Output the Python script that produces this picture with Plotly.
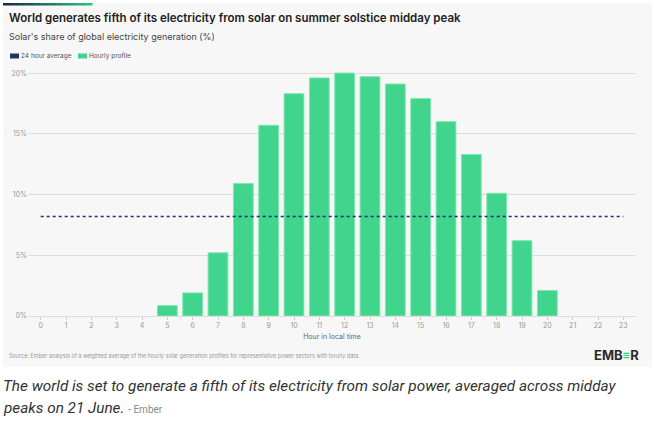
import plotly.graph_objects as go

hours = list(range(24))
hourly_profile = [0, 0, 0, 0, 0, 0.85, 1.9, 5.2, 10.9, 15.7, 18.3, 19.6, 20.0, 19.7,
                  19.1, 17.9, 16.0, 13.3, 10.1, 6.2, 2.1, 0, 0, 0]
avg_value = 8.2
y_ticks = [0, 5, 10, 15, 20]

W, H = 655, 423
L, R = 28, 636          # plot area px
T, B = 67, 316          # plot area px
YMAX = 20.5

def px(x):
    return (x - L) / (R - L)

def py(y):
    return (B - y) / (B - T)

CARD = "#f7f7f7"
fig = go.Figure()

fig.add_trace(go.Bar(
    x=hours, y=hourly_profile, name="Hourly profile",
    marker=dict(color="#40d48c",
                line=dict(color="#7fe6b3", width=[0 if v == 0 else 1 for v in hourly_profile])),
    showlegend=False, hoverinfo="x+y",
))
fig.add_trace(go.Scatter(
    x=[hours[0], hours[-1]], y=[avg_value, avg_value], mode="lines",
    name="24 hour average",
    line=dict(color="#1f3566", width=1.5, dash="dot"),
    showlegend=False,
))

shapes = []
# card background
shapes.append(dict(type="rect", xref="paper", yref="paper",
                   x0=px(3), x1=px(652), y0=py(3), y1=py(367),
                   fillcolor=CARD, line=dict(width=0), layer="below"))
# top gradient accent bar
n = 12
c0 = (27, 42, 78)
c1 = (46, 190, 120)
for i in range(n):
    t = i / (n - 1)
    c = tuple(int(c0[k] + (c1[k] - c0[k]) * t) for k in range(3))
    xa = 3 + (92 - 3) * i / n
    xb = 3 + (92 - 3) * (i + 1) / n + 0.5
    shapes.append(dict(type="rect", xref="paper", yref="paper",
                       x0=px(xa), x1=px(xb), y0=py(3), y1=py(5.5),
                       fillcolor="rgb(%d,%d,%d)" % c, line=dict(width=0), layer="below"))
# legend swatches
shapes.append(dict(type="rect", xref="paper", yref="paper",
                   x0=px(10), x1=px(19), y0=py(53.5), y1=py(58.5),
                   fillcolor="#1f3566", line=dict(width=0)))
shapes.append(dict(type="rect", xref="paper", yref="paper",
                   x0=px(78), x1=px(87), y0=py(53.5), y1=py(58.5),
                   fillcolor="#40d48c", line=dict(width=0)))

FONT = "Inter, Lato, sans-serif"

def ann(text, x, y, size, color, xanchor="left", family=FONT, weight=None):
    f = dict(size=size, color=color, family=family)
    if weight:
        f["weight"] = weight
    return dict(text=text, xref="paper", yref="paper", x=px(x), y=py(y),
                xanchor=xanchor, yanchor="middle", showarrow=False, font=f)

annotations = [
    ann("World generates fifth of its electricity from solar on summer solstice midday peak",
        7, 18, 11.5, "#222222", weight=600),
    ann("Solar's share of global electricity generation (%)", 7, 36, 9, "#444444"),
    ann("24 hour average", 19, 56, 6.5, "#555555"),
    ann("Hourly profile", 87, 56, 6.5, "#555555"),
    ann("Source: Ember analysis of a weighted average of the hourly solar generation profiles for representative power sectors with hourly data.",
        7, 356, 5.5, "#999999"),
    ann("<b>EMB<span style='color:#2fcf82'>≡</span>R</b>", 641, 355, 13, "#2a2a2a", xanchor="right"),
    ann("<i>The world is set to generate a fifth of its electricity from solar power, averaged across midday</i>",
        1, 386, 15.3, "#333333", family="Roboto, sans-serif"),
    ann("<i>peaks on 21 June.</i> <span style='font-size:10px;color:#888888'>- Ember</span>",
        1, 408, 15.3, "#333333", family="Roboto, sans-serif"),
]

fig.update_layout(
    width=W, height=H,
    margin=dict(l=L, r=W - R, t=T, b=H - B, pad=0, autoexpand=False),
    paper_bgcolor="white",
    plot_bgcolor=CARD,
    bargap=0.22,
    shapes=shapes,
    annotations=annotations,
    font=dict(family=FONT),
    xaxis=dict(
        range=[-0.5, 23.5], tickmode="array", tickvals=hours,
        ticktext=[str(h) for h in hours],
        ticks="outside", ticklen=3, tickcolor="#cccccc",
        tickfont=dict(size=7, color="#999999"),
        showgrid=False, showline=True, linecolor="#dddddd", zeroline=False,
        title=dict(text="Hour in local time", font=dict(size=7, color="#666666"), standoff=4),
        automargin=False, fixedrange=True,
    ),
    yaxis=dict(
        range=[0, YMAX], tickmode="array", tickvals=y_ticks,
        ticktext=[f"{v}%" for v in y_ticks],
        tickfont=dict(size=7, color="#999999"),
        showgrid=True, gridcolor="#dedede", gridwidth=1, zeroline=False,
        ticks="", automargin=False, fixedrange=True,
    ),
)

fig.write_html("out.html", config={"displayModeBar": False},
               post_script="document.body.style.margin='0px';document.body.style.overflow='hidden';")
